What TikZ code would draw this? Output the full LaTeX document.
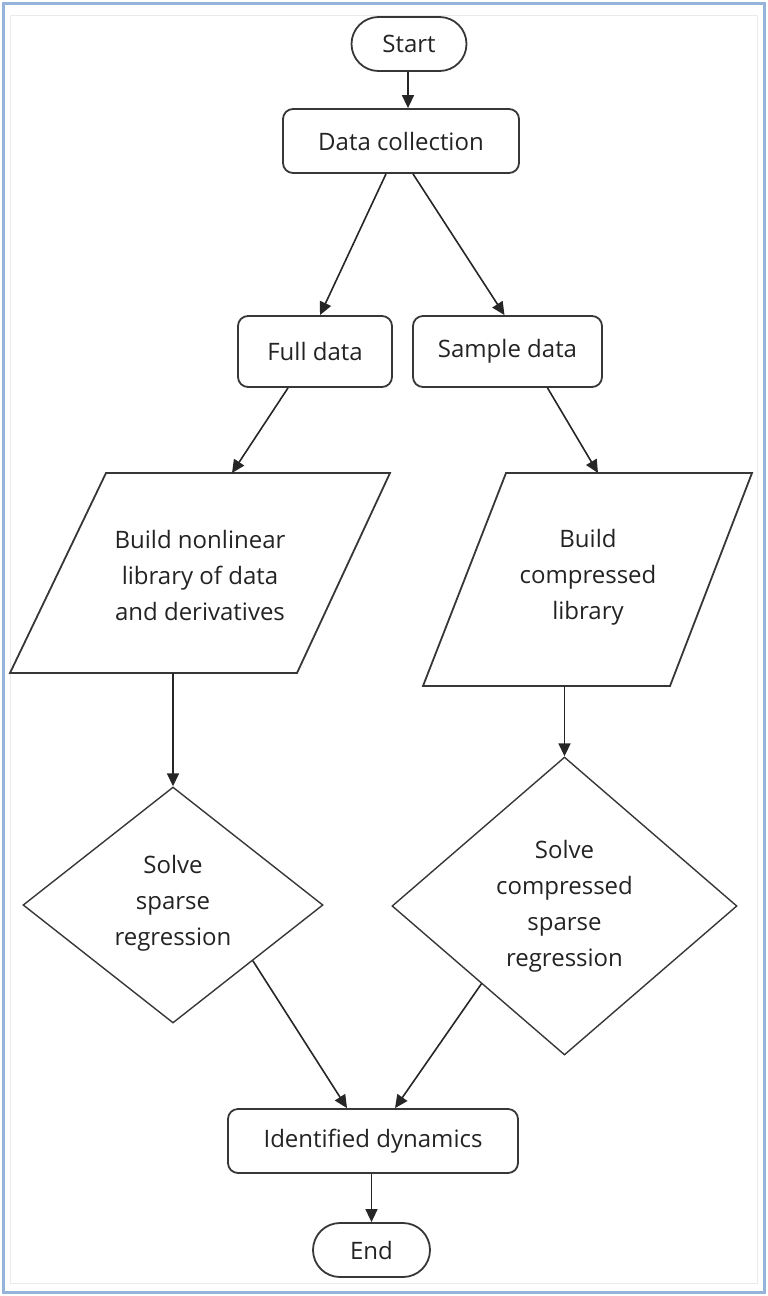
\documentclass[tikz,border=0pt]{standalone}
\usepackage{fontspec}
\setmainfont{Open Sans}
\usetikzlibrary{shapes.geometric,shapes.misc,arrows.meta,calc}
\definecolor{frameblue}{RGB}{150,180,218}
\definecolor{shapeline}{RGB}{55,55,55}
\definecolor{txt}{RGB}{35,35,35}
\begin{document}
\begin{tikzpicture}[x=1pt,y=-1pt,
  every node/.style={font=\fontsize{24}{36}\selectfont, text=txt, inner sep=0pt},
  box/.style={draw=shapeline, line width=1.8pt, rectangle, rounded corners=10pt, align=center},
  term/.style={draw=shapeline, line width=1.8pt, rounded rectangle, align=center},
  dia/.style={draw=shapeline, line width=1.4pt, diamond, align=center},
  para/.style={draw=shapeline, line width=1.8pt},
  conn/.style={draw=black!85, line width=1.6pt, -{Triangle[length=13pt,width=12pt]}}
]
\useasboundingbox (0,0) rectangle (768,1296);
% frame
\draw[frameblue, line width=3pt] (3,3) rectangle (764,1292);
\draw[black!8, line width=1pt] (10,15) rectangle (757,1283);

% terminals and boxes
\node[term, minimum width=115pt, minimum height=54pt] (start) at (409,44) {Start};
\node[box, minimum width=236pt, minimum height=64pt] (data) at (401,141) {Data collection};
\node[box, minimum width=154pt, minimum height=71pt] (full) at (315,351.5) {Full data};
\node[box, minimum width=189pt, minimum height=71pt] (sample) at (507.5,351.5) {Sample data};
\node[box, minimum width=290pt, minimum height=64pt] (ident) at (373,1141) {Identified dynamics};
\node[term, minimum width=117pt, minimum height=54pt] (end) at (371.5,1250) {End};

% parallelograms
\draw[para] (106,473) -- (390,473) -- (297,673) -- (10,673) -- cycle;
\node[align=center] (lib1) at (200,575) {Build nonlinear\\library of data\\and derivatives};
\coordinate (lib1top) at (232,473);
\coordinate (lib1bot) at (173,673);

\draw[para] (506,473) -- (752,473) -- (670,686) -- (423,686) -- cycle;
\node[align=center] (lib2) at (588,577) {Build\\compressed\\library};
\coordinate (lib2top) at (598,473);
\coordinate (lib2bot) at (564.5,686);

% diamonds
\node[dia, minimum width=300pt, minimum height=236pt] (sol1) at (173,905) {};
\node[align=center] at (173,903) {Solve\\sparse\\regression};
\node[dia, minimum width=345pt, minimum height=298pt] (sol2) at (564.5,906) {};
\node[align=center] at (564.5,906) {Solve\\compressed\\sparse\\regression};

% connector end points
\coordinate (dataL) at ($(data.south)+(-15,0)$);
\coordinate (dataR) at ($(data.south)+(12,0)$);
\coordinate (fullT) at ($(full.north)+(5,0)$);
\coordinate (sampT) at ($(sample.north)+(-3,0)$);
\coordinate (fullB) at ($(full.south)+(-27,0)$);
\coordinate (sampB) at ($(sample.south)+(40,0)$);
\coordinate (sol1out) at ($(sol1.east)!0.47!(sol1.south)$);
\coordinate (sol2out) at ($(sol2.west)!0.52!(sol2.south)$);
\coordinate (identL) at ($(ident.north)+(-26,0)$);
\coordinate (identR) at ($(ident.north)+(22,0)$);

% connectors
\draw[conn] (start.south -| 408,0) -- (data.north -| 408,0);
\draw[conn] (dataL) -- (fullT);
\draw[conn] (dataR) -- (sampT);
\draw[conn] (fullB) -- (lib1top);
\draw[conn] (sampB) -- (lib2top);
\draw[conn] (lib1bot) -- (sol1.north);
\draw[conn] (lib2bot) -- (sol2.north);
\draw[conn] (sol1out) -- (identL);
\draw[conn] (sol2out) -- (identR);
\draw[conn] (ident.south -| end.north) -- (end.north);
\end{tikzpicture}
\end{document}
